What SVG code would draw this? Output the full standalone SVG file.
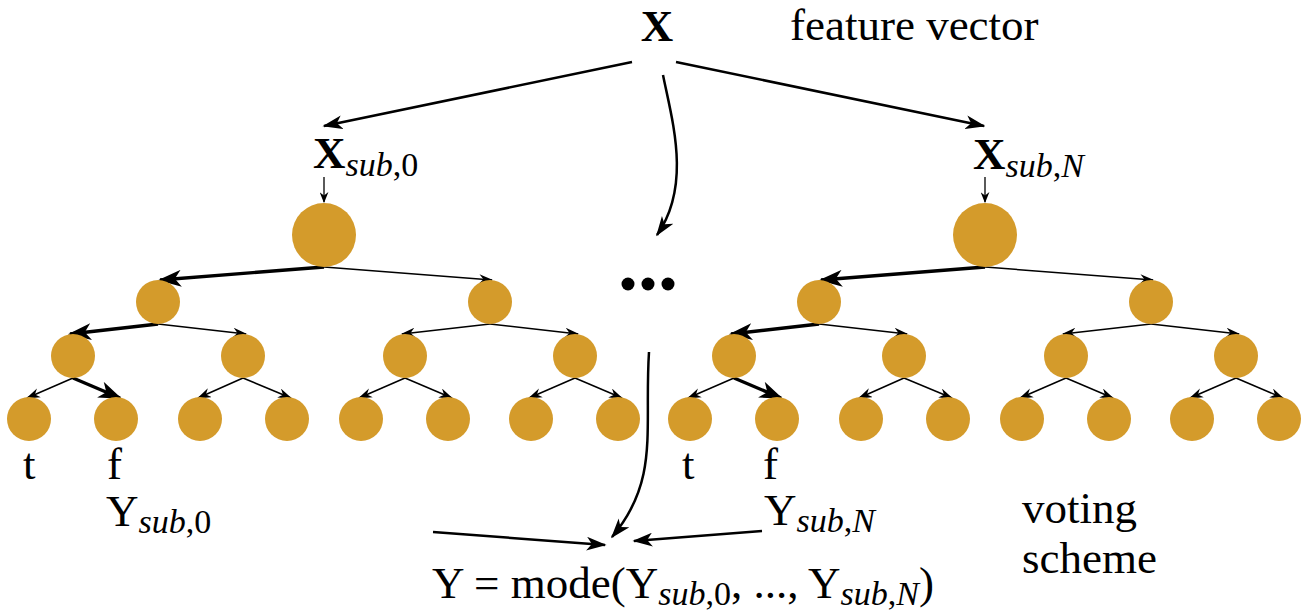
<svg xmlns="http://www.w3.org/2000/svg" width="1304" height="612" viewBox="0 0 1304 612">
<style>
text{font-family:"Liberation Serif","Times New Roman",serif;fill:#000}
.t{font-size:45px}
.s{font-size:34px}
.i{font-style:italic}
.b{font-weight:bold}
.n{fill:#D49B2B}
.e{fill:none;stroke:#000;stroke-width:1.5}
.eb{fill:none;stroke:#000;stroke-width:3.4}
.em{fill:none;stroke:#000;stroke-width:2.5}
.et{fill:none;stroke:#000;stroke-width:1.3}
</style>
<defs>
<marker id="aThin" markerUnits="userSpaceOnUse" markerWidth="14" markerHeight="10" viewBox="0 0 13 9" refX="12" refY="4.5" orient="auto"><path d="M0,0 L13,4.5 L0,9 L4,4.5 z" fill="#000"/></marker>
<marker id="aBold" markerUnits="userSpaceOnUse" markerWidth="24" markerHeight="17" viewBox="0 0 22 16" refX="20" refY="8" orient="auto"><path d="M0,0 L22,8 L0,16 L6,8 z" fill="#000"/></marker>
<marker id="aMid" markerUnits="userSpaceOnUse" markerWidth="20" markerHeight="14" viewBox="0 0 19 13" refX="17.5" refY="6.5" orient="auto"><path d="M0,0 L19,6.5 L0,13 L5,6.5 z" fill="#000"/></marker>
<marker id="aTiny" markerUnits="userSpaceOnUse" markerWidth="11" markerHeight="9" viewBox="0 0 10 8" refX="9" refY="4" orient="auto"><path d="M0,0 L10,4 L0,8 L3,4 z" fill="#000"/></marker>
</defs>

<g id="connectors">
<path class="em" d="M632,62 L324,126" marker-end="url(#aMid)"/>
<path class="em" d="M676,62 L984,126" marker-end="url(#aMid)"/>
<path class="em" d="M663,75 C672,120 692,185 657,235" marker-end="url(#aMid)"/>
<path class="em" d="M649,352 C644,430 660,480 612,537" marker-end="url(#aMid)"/>
<path class="em" d="M433,532 L605,545" marker-end="url(#aMid)"/>
<path class="em" d="M762,531 L634,541" marker-end="url(#aMid)"/>
<path class="et" d="M324,177 L324,202" marker-end="url(#aTiny)"/>
<path class="et" d="M985,177 L985,202" marker-end="url(#aTiny)"/>
<!-- left tree -->
<path class="eb" d="M324,267 L160,280" marker-end="url(#aBold)"/>
<path class="e" d="M324,267 L492,280" marker-end="url(#aThin)"/>
<path class="eb" d="M158,324 L70,334" marker-end="url(#aBold)"/>
<path class="e" d="M158,324 L246,334" marker-end="url(#aThin)"/>
<path class="e" d="M490,324 L402,334" marker-end="url(#aThin)"/>
<path class="e" d="M490,324 L578,334" marker-end="url(#aThin)"/>
<path class="e" d="M73,378 L27,398" marker-end="url(#aThin)"/>
<path class="eb" d="M73,378 L120,398" marker-end="url(#aBold)"/>
<path class="e" d="M243,378 L198,398" marker-end="url(#aThin)"/>
<path class="e" d="M243,378 L291,398" marker-end="url(#aThin)"/>
<path class="e" d="M405,378 L359,398" marker-end="url(#aThin)"/>
<path class="e" d="M405,378 L452,398" marker-end="url(#aThin)"/>
<path class="e" d="M575,378 L529,398" marker-end="url(#aThin)"/>
<path class="e" d="M575,378 L622,398" marker-end="url(#aThin)"/>
<!-- right tree -->
<path class="eb" d="M985,267 L821,280" marker-end="url(#aBold)"/>
<path class="e" d="M985,267 L1153,280" marker-end="url(#aThin)"/>
<path class="eb" d="M819,324 L731,334" marker-end="url(#aBold)"/>
<path class="e" d="M819,324 L907,334" marker-end="url(#aThin)"/>
<path class="e" d="M1151,324 L1063,334" marker-end="url(#aThin)"/>
<path class="e" d="M1151,324 L1239,334" marker-end="url(#aThin)"/>
<path class="e" d="M734,378 L688,398" marker-end="url(#aThin)"/>
<path class="eb" d="M734,378 L781,398" marker-end="url(#aBold)"/>
<path class="e" d="M904,378 L859,398" marker-end="url(#aThin)"/>
<path class="e" d="M904,378 L952,398" marker-end="url(#aThin)"/>
<path class="e" d="M1066,378 L1020,398" marker-end="url(#aThin)"/>
<path class="e" d="M1066,378 L1113,398" marker-end="url(#aThin)"/>
<path class="e" d="M1236,378 L1190,398" marker-end="url(#aThin)"/>
<path class="e" d="M1236,378 L1283,398" marker-end="url(#aThin)"/>
</g>

<g id="tree0">
<g id="t0-root"><circle class="n" cx="324" cy="235" r="32"/></g>
<g id="t0-n1"><circle class="n" cx="158" cy="302" r="22"/></g>
<g id="t0-n2"><circle class="n" cx="490" cy="302" r="22"/></g>
<g id="t0-n3"><circle class="n" cx="73" cy="356" r="22"/></g>
<g id="t0-n4"><circle class="n" cx="243" cy="356" r="22"/></g>
<g id="t0-n5"><circle class="n" cx="405" cy="356" r="22"/></g>
<g id="t0-n6"><circle class="n" cx="575" cy="356" r="22"/></g>
<g id="t0-n7"><circle class="n" cx="29" cy="419" r="22"/></g>
<g id="t0-n8"><circle class="n" cx="116" cy="419" r="22"/></g>
<g id="t0-n9"><circle class="n" cx="200" cy="419" r="22"/></g>
<g id="t0-n10"><circle class="n" cx="287" cy="419" r="22"/></g>
<g id="t0-n11"><circle class="n" cx="361" cy="419" r="22"/></g>
<g id="t0-n12"><circle class="n" cx="448" cy="419" r="22"/></g>
<g id="t0-n13"><circle class="n" cx="531" cy="419" r="22"/></g>
<g id="t0-n14"><circle class="n" cx="618" cy="419" r="22"/></g>
</g>
<g id="treeN">
<g id="tN-root"><circle class="n" cx="985" cy="235" r="32"/></g>
<g id="tN-n1"><circle class="n" cx="819" cy="302" r="22"/></g>
<g id="tN-n2"><circle class="n" cx="1151" cy="302" r="22"/></g>
<g id="tN-n3"><circle class="n" cx="734" cy="356" r="22"/></g>
<g id="tN-n4"><circle class="n" cx="904" cy="356" r="22"/></g>
<g id="tN-n5"><circle class="n" cx="1066" cy="356" r="22"/></g>
<g id="tN-n6"><circle class="n" cx="1236" cy="356" r="22"/></g>
<g id="tN-n7"><circle class="n" cx="690" cy="419" r="22"/></g>
<g id="tN-n8"><circle class="n" cx="777" cy="419" r="22"/></g>
<g id="tN-n9"><circle class="n" cx="861" cy="419" r="22"/></g>
<g id="tN-n10"><circle class="n" cx="948" cy="419" r="22"/></g>
<g id="tN-n11"><circle class="n" cx="1022" cy="419" r="22"/></g>
<g id="tN-n12"><circle class="n" cx="1109" cy="419" r="22"/></g>
<g id="tN-n13"><circle class="n" cx="1192" cy="419" r="22"/></g>
<g id="tN-n14"><circle class="n" cx="1279" cy="419" r="22"/></g>
</g>

<g id="dots"><circle cx="628" cy="284" r="6.5"/><circle cx="648" cy="284" r="6.5"/><circle cx="668" cy="284" r="6.5"/></g>

<g id="x"><text class="t b" x="657" y="41" text-anchor="middle">X</text></g>
<g id="feature"><text class="t" x="790" y="40">feature vector</text></g>
<g id="xsub0"><text class="t b" x="313" y="168">X<tspan class="s i" font-weight="normal" dy="8">sub</tspan><tspan class="s" font-weight="normal">,0</tspan></text></g>
<g id="xsubN"><text class="t b" x="973" y="169">X<tspan class="s i" font-weight="normal" dy="8">sub</tspan><tspan class="s" font-weight="normal">,</tspan><tspan class="s i" font-weight="normal">N</tspan></text></g>
<g id="leaf-labels">
<text class="t" x="23" y="479">t</text>
<text class="t" x="107" y="479">f</text>
<text class="t" x="682" y="479">t</text>
<text class="t" x="763" y="479">f</text>
</g>
<g id="ysub0"><text class="t" x="106" y="526">Y<tspan class="s i" dy="7">sub</tspan><tspan class="s">,0</tspan></text></g>
<g id="ysubN"><text class="t" x="764" y="525">Y<tspan class="s i" dy="7">sub</tspan><tspan class="s">,</tspan><tspan class="s i">N</tspan></text></g>
<g id="voting"><text class="t" x="1022" y="523">voting</text><text class="t" x="1022" y="573">scheme</text></g>
<g id="result"><text class="t" x="432" y="598">Y = mode(Y<tspan class="s i" dy="7">sub</tspan><tspan class="s">,0</tspan><tspan dy="-7">, ..., Y</tspan><tspan class="s i" dy="7">sub</tspan><tspan class="s">,</tspan><tspan class="s i">N</tspan><tspan dy="-7">)</tspan></text></g>
</svg>
